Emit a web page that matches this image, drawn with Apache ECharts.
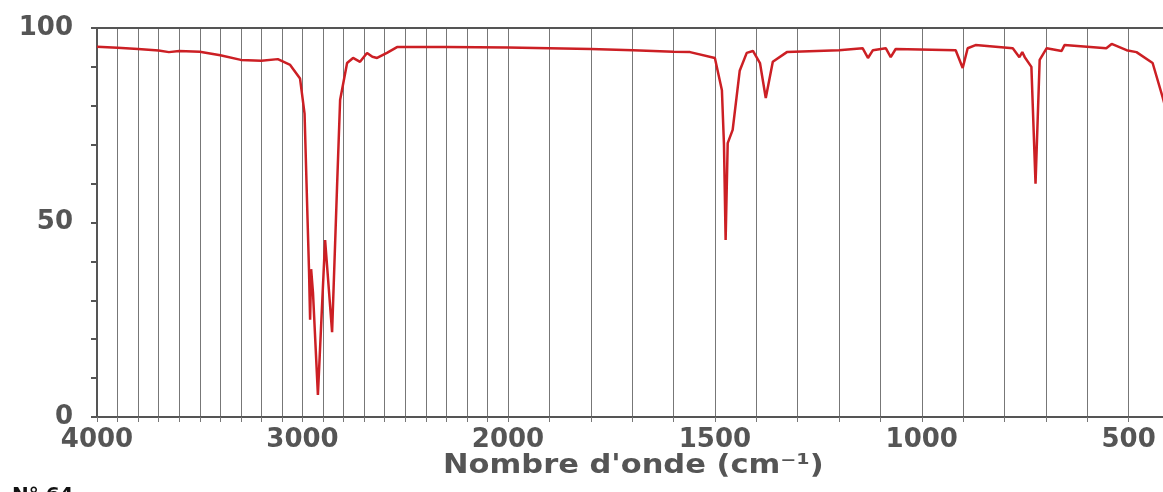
<!DOCTYPE html>
<html>
<head>
<meta charset="utf-8">
<script src="https://cdn.jsdelivr.net/npm/echarts@6/dist/echarts.min.js"></script>
<style>
  html, body { margin: 0; padding: 0; background: #fff; }
  #main { width: 1163px; height: 492px; }
</style>
</head>
<body>
<div id="main"></div>
<script>
// IR spectrum (wavenumber cm-1 -> transmittance %)
var wavenumbers = [
  4000, 3900, 3800, 3700, 3650, 3600, 3500, 3400, 3300, 3200, 3120, 3060, 3012,
  2990, 2975, 2968, 2963, 2958, 2954, 2949, 2925, 2890, 2856, 2832, 2817, 2783,
  2754, 2720, 2686, 2660, 2637, 2589, 2540, 2300, 2000,
  1800, 1698, 1600, 1560, 1500, 1483, 1478, 1474, 1469, 1457, 1440, 1423, 1408,
  1391, 1377, 1360, 1326, 1200, 1143, 1130, 1118, 1087, 1075, 1063, 918, 901,
  889, 870, 780, 764, 757, 751, 735, 725, 715, 698, 662, 655, 554, 541, 505,
  481, 442, 418, 410
];
var transmittance = [
  95.2, 94.9, 94.6, 94.2, 93.8, 94.1, 93.9, 93.0, 91.8, 91.6, 92.0, 90.5, 87.0,
  78, 50, 37, 25, 38, 38, 32, 5.7, 45.5, 21.8, 59, 81.5, 91,
  92.3, 91.3, 93.6, 92.6, 92.3, 93.6, 95.1, 95.1, 95.0,
  94.6, 94.3, 93.9, 93.8, 92.3, 84, 70, 45.5, 70.4, 73.8, 89, 93.6, 94.1,
  91, 82, 91.3, 93.8, 94.3, 94.8, 92.3, 94.3, 94.8, 92.5, 94.6, 94.3, 89.7,
  94.8, 95.6, 94.8, 92.5, 93.8, 92.5, 90, 60, 91.8, 94.8, 94.1, 95.6, 94.8, 95.9, 94.3,
  93.8, 91, 82.3, 79
];
var yTicks = [0, 50, 100];
var xTicksHigh = [4000, 3000];          // labelled on the 4000-2000 part
var xTicksLow = [2000, 1500, 1000, 500]; // labelled on the 2000-400 part

var highPart = [], lowPart = [];
for (var i = 0; i < wavenumbers.length; i++) {
  var p = [wavenumbers[i], transmittance[i]];
  if (wavenumbers[i] >= 2000) highPart.push(p);
  if (wavenumbers[i] <= 2000) lowPart.push(p);
}

var chart = echarts.init(document.getElementById('main'), null, { renderer: 'canvas' });

var labelFont = {
  fontFamily: 'DejaVu Sans',
  fontWeight: 'bold',
  fontSize: 26,
  color: '#555'
};
var gridLine = { show: true, lineStyle: { color: '#777', width: 1 } };
var axisLine = { show: true, lineStyle: { color: '#555', width: 2 } };
var lineColor = '#cc1f24';

function bottomAxis(gridIndex, min, max, labels) {
  return {
    type: 'value',
    gridIndex: gridIndex,
    inverse: true,
    min: min,
    max: max,
    interval: 100,
    position: 'bottom',
    axisLine: axisLine,
    axisTick: { show: true, length: 5, lineStyle: { color: '#777' } },
    splitLine: gridLine,
    axisLabel: Object.assign({
      margin: 10,
      showMinLabel: true,
      showMaxLabel: true,
      hideOverlap: false,
      formatter: function (v) { return labels.indexOf(v) >= 0 ? String(v) : ''; }
    }, labelFont)
  };
}
function topAxis(gridIndex, min, max) {
  return {
    type: 'value',
    gridIndex: gridIndex,
    inverse: true,
    min: min,
    max: max,
    position: 'top',
    axisLine: axisLine,
    axisTick: { show: false },
    axisLabel: { show: false },
    splitLine: { show: false }
  };
}

var option = {
  backgroundColor: '#fff',
  animation: false,
  grid: [
    { left: 97, top: 28, width: 411, height: 389, containLabel: false, outerBoundsMode: 'none' },
    { left: 508, top: 28, width: 662, height: 389, containLabel: false, outerBoundsMode: 'none' }
  ],
  xAxis: [
    bottomAxis(0, 2000, 4000, xTicksHigh),
    bottomAxis(1, 400, 2000, xTicksLow),
    topAxis(0, 2000, 4000),
    topAxis(1, 400, 2000)
  ],
  yAxis: [
    {
      type: 'value',
      gridIndex: 0,
      min: 0,
      max: 100,
      interval: 10,
      axisLine: axisLine,
      axisTick: { show: true, length: 6, lineStyle: { color: '#555', width: 2 } },
      splitLine: { show: false },
      axisLabel: Object.assign({
        margin: 24,
        formatter: function (v) { return yTicks.indexOf(v) >= 0 ? String(v) : ''; }
      }, labelFont)
    },
    {
      type: 'value',
      gridIndex: 1,
      min: 0,
      max: 100,
      show: false
    }
  ],
  graphic: [
    {
      type: 'text',
      left: 443,
      top: 452,
      scaleX: 1.13,
      style: {
        text: "Nombre d'onde (cm\u207B\u00B9)",
        font: 'bold 27px "DejaVu Sans"',
        fill: '#555'
      }
    },
    {
      type: 'text',
      left: 12,
      top: 486,
      style: {
        text: 'N° 64',
        font: 'bold 20px "DejaVu Sans"',
        fill: '#111'
      }
    }
  ],
  series: [
    {
      type: 'line',
      xAxisIndex: 0,
      yAxisIndex: 0,
      data: highPart,
      showSymbol: false,
      lineStyle: { color: lineColor, width: 2.5 }
    },
    {
      type: 'line',
      xAxisIndex: 1,
      yAxisIndex: 1,
      data: lowPart,
      showSymbol: false,
      lineStyle: { color: lineColor, width: 2.5 }
    }
  ]
};

chart.setOption(option);
</script>
</body>
</html>
